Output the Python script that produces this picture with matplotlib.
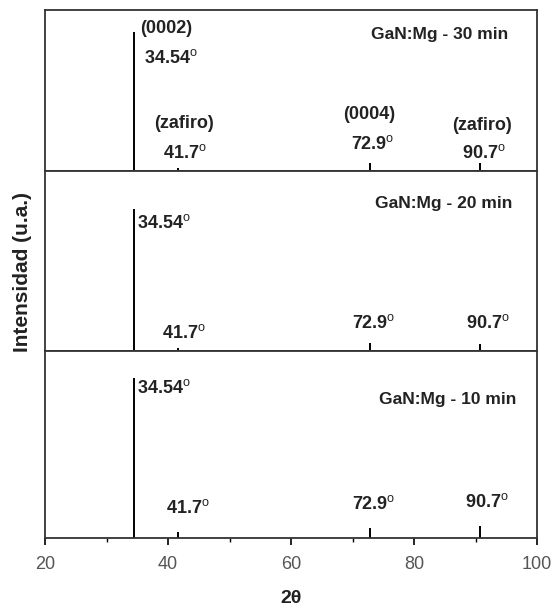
import matplotlib.pyplot as plt
from matplotlib.ticker import MultipleLocator

plt.rcParams['font.family'] = ['Liberation Sans', 'DejaVu Sans']
plt.rcParams['mathtext.fontset'] = 'custom'
plt.rcParams['mathtext.rm'] = 'Liberation Sans'
plt.rcParams['mathtext.bf'] = 'Liberation Sans:bold'

# peak positions (2theta, degrees) and relative heights for each sample
peak_pos = [34.54, 41.7, 72.9, 90.7]
heights_30 = [86.3, 2.0, 5.0, 5.0]
heights_20 = [79.0, 1.7, 4.5, 4.0]
heights_10 = [85.6, 3.2, 5.3, 6.4]
samples = ['GaN:Mg - 30 min', 'GaN:Mg - 20 min', 'GaN:Mg - 10 min']

fig = plt.figure(figsize=(5.54, 6.13), dpi=100)
W, H = 554, 613
left, right = 45, 537
# panel top/bottom in pixels
panels = [(10, 171), (171, 351), (351, 538)]

axes = []
for top, bot in panels:
    ax = fig.add_axes([left / W, 1 - bot / H, (right - left) / W, (bot - top) / H])
    axes.append(ax)

bold = dict(fontsize=13, fontweight='bold', color='#222222')
small = dict(fontsize=12.5, fontweight='bold', color='#222222')
deg = r'$^{\mathrm{o}}$'

for ax, heights in zip(axes, [heights_30, heights_20, heights_10]):
    ax.vlines(peak_pos, 0, heights, color='black', lw=1.4)
    ax.set_xlim(20, 100)
    ax.set_ylim(0, 100)
    ax.set_yticks([])
    for s in ax.spines.values():
        s.set_linewidth(1.3)
        s.set_color('#333333')
    ax.xaxis.set_major_locator(MultipleLocator(20))
    ax.xaxis.set_minor_locator(MultipleLocator(10))
    ax.tick_params(axis='x', which='major', direction='out', length=5, width=1.2,
                   labelsize=13, labelcolor='#555555', pad=8)
    ax.tick_params(axis='x', which='minor', direction='out', length=3, width=1.0)

for ax in axes[:2]:
    ax.tick_params(axis='x', which='both', length=0, labelbottom=False)

# top panel labels
ax = axes[0]
ax.text(35.4, 88.2, '(0002)', ha='left', va='center', **bold)
ax.text(36.1, 70, '34.54' + deg, ha='left', va='center', **bold)
ax.text(42.6, 29.8, '(zafiro)', ha='center', va='center', **bold)
ax.text(42.7, 11, '41.7' + deg, ha='center', va='center', **bold)
ax.text(72.7, 35, '(0004)', ha='center', va='center', **bold)
ax.text(73.2, 17, '72.9' + deg, ha='center', va='center', **bold)
ax.text(91.1, 28.5, '(zafiro)', ha='center', va='center', **bold)
ax.text(91.4, 11, '90.7' + deg, ha='center', va='center', **bold)
ax.text(84.2, 84.5, samples[0], ha='center', va='center', **small)

# middle panel labels
ax = axes[1]
ax.text(34.9, 71, '34.54' + deg, ha='left', va='center', **bold)
ax.text(42.6, 10, '41.7' + deg, ha='center', va='center', **bold)
ax.text(73.5, 15.5, '72.9' + deg, ha='center', va='center', **bold)
ax.text(92.0, 15.5, '90.7' + deg, ha='center', va='center', **bold)
ax.text(84.9, 82, samples[1], ha='center', va='center', **small)

# bottom panel labels
ax = axes[2]
ax.text(34.9, 80, '34.54' + deg, ha='left', va='center', **bold)
ax.text(43.3, 16, '41.7' + deg, ha='center', va='center', **bold)
ax.text(73.5, 18, '72.9' + deg, ha='center', va='center', **bold)
ax.text(91.9, 19, '90.7' + deg, ha='center', va='center', **bold)
ax.text(85.4, 74, samples[2], ha='center', va='center', **small)
ax.set_xlabel('2θ', fontsize=14, fontweight='bold', labelpad=12, color='#222222')

fig.text(23 / W, 1 - 272 / H, 'Intensidad (u.a.)', rotation=90, ha='center', va='center',
         fontsize=15, fontweight='bold', color='#222222')

fig.savefig('out.png', dpi=100)
